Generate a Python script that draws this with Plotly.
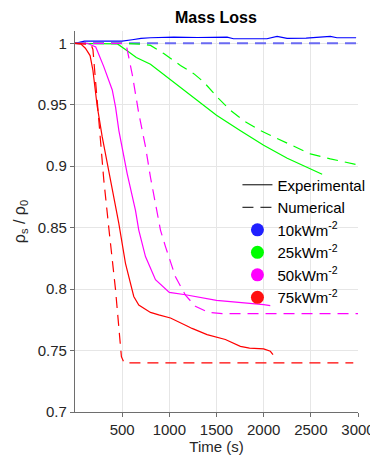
import plotly.graph_objects as go

# ---- data ----
t_exp10 = [0, 100, 300, 500, 606, 700, 800, 1047, 1300, 1612, 1680, 1850, 2035, 2142, 2248, 2450, 2707, 2777, 2980]
y_exp10 = [1.0, 1.0018, 1.0018, 1.0018, 1.0029, 1.004, 1.0045, 1.005, 1.0047, 1.005, 1.0037, 1.0037, 1.0037, 1.0056, 1.004, 1.0042, 1.0056, 1.0045, 1.0045]
t_num10 = [0, 2980]
y_num10 = [1.0, 1.0]

t_exp25 = [0, 200, 450, 553, 650, 800, 1000, 1250, 1500, 1750, 2000, 2250, 2500, 2620]
y_exp25 = [1.0, 1.0, 0.9995, 0.994, 0.9885, 0.983, 0.9713, 0.9565, 0.9415, 0.929, 0.917, 0.9065, 0.898, 0.8935]
t_num25 = [0, 500, 700, 801, 941, 1118, 1259, 1365, 1506, 1647, 1788, 1965, 2142, 2318, 2495, 2707, 2953, 3000]
y_num25 = [1.0, 1.0, 0.9993, 0.9983, 0.9916, 0.982, 0.9753, 0.9685, 0.9563, 0.9455, 0.937, 0.929, 0.9226, 0.916, 0.910, 0.906, 0.9017, 0.901]

t_exp50 = [0, 130, 220, 305, 395, 430, 465, 553, 641, 676, 747, 853, 1000, 1171, 1500, 1800, 2000, 2070]
y_exp50 = [1.0, 1.0, 0.997, 0.981, 0.962, 0.948, 0.929, 0.894, 0.864, 0.848, 0.8265, 0.8076, 0.7973, 0.7954, 0.7908, 0.789, 0.7873, 0.7865]
t_num50 = [0, 500, 545, 606, 676, 747, 800, 871, 906, 959, 1065, 1171, 1276, 1418, 1559, 3000]
y_num50 = [1.0, 1.0, 0.998, 0.975, 0.943, 0.916, 0.891, 0.864, 0.848, 0.8346, 0.810, 0.795, 0.786, 0.781, 0.780, 0.780]

t_exp75 = [0, 60, 110, 160, 190, 235, 288, 358, 376, 464, 535, 623, 676, 800, 888, 1012, 1188, 1241, 1400, 1594, 1753, 1850, 2000, 2071, 2099]
y_exp75 = [1.0, 0.9995, 0.996, 0.99, 0.978, 0.949, 0.924, 0.897, 0.889, 0.8536, 0.821, 0.794, 0.787, 0.781, 0.779, 0.7765, 0.770, 0.768, 0.763, 0.759, 0.7534, 0.752, 0.7513, 0.7494, 0.7467]
t_num75 = [0, 170, 190, 230, 305, 358, 429, 492, 520, 2950]
y_num75 = [1.0, 0.999, 0.995, 0.96, 0.889, 0.85, 0.80, 0.745, 0.740, 0.740]

flux_labels = ["10kWm<sup>-2</sup>", "25kWm<sup>-2</sup>", "50kWm<sup>-2</sup>", "75kWm<sup>-2</sup>"]
x_ticks = [500, 1000, 1500, 2000, 2500, 3000]
y_ticks = [0.7, 0.75, 0.8, 0.85, 0.9, 0.95, 1.0]
y_tick_text = ["0.7", "0.75", "0.8", "0.85", "0.9", "0.95", "1"]

# ---- styles ----
colors = ["#0000ff", "#00ff00", "#ff00ff", "#ff0000"]
dash_colors = ["#6a6af2", "#00ff00", "#ff00ff", "#ff0000"]
dot_colors = ["#2020ff", "#00ff00", "#ff00ff", "#ff1010"]
DASH = "11px,7px"
FONT = "Liberation Sans, Arial, Helvetica, sans-serif"

fig = go.Figure()

series = [
    (t_exp10, y_exp10, t_num10, y_num10),
    (t_exp25, y_exp25, t_num25, y_num25),
    (t_exp50, y_exp50, t_num50, y_num50),
    (t_exp75, y_exp75, t_num75, y_num75),
]
for i, (te, ye, tn, yn) in enumerate(series):
    fig.add_trace(go.Scatter(x=tn, y=yn, mode="lines", showlegend=False,
                             line=dict(color=dash_colors[i], width=2 if i == 0 else 1.2, dash=DASH)))
    fig.add_trace(go.Scatter(x=te, y=ye, mode="lines", showlegend=False,
                             line=dict(color=colors[i], width=1.2)))

# legend entries
fig.add_trace(go.Scatter(x=[None], y=[None], mode="lines", name="Experimental",
                         line=dict(color="black", width=1)))
fig.add_trace(go.Scatter(x=[None], y=[None], mode="lines", name="Numerical",
                         line=dict(color="black", width=1, dash=DASH)))
for i, lab in enumerate(flux_labels):
    fig.add_trace(go.Scatter(x=[None], y=[None], mode="markers", name=lab,
                             marker=dict(color=dot_colors[i], size=13, line=dict(width=0))))

axis_common = dict(
    showgrid=True, gridcolor="#e6e6e6", gridwidth=1,
    showline=True, linecolor="#6e6e6e", linewidth=1.3,
    ticks="outside", ticklen=4, tickcolor="#6e6e6e",
    tickfont=dict(family=FONT, size=15, color="#262626"),
    zeroline=False, mirror=False, automargin=False,
)

# page body has an 8px margin, so the figure is 8px smaller and offset
fig.update_layout(
    width=370, height=451,
    margin=dict(l=66.5, r=20.3, t=22.6, b=46.5, autoexpand=False),
    paper_bgcolor="white", plot_bgcolor="white",
    font=dict(family=FONT, color="#262626"),
    title=dict(text="<b>Mass Loss</b>", x=0.562, xanchor="center", y=0.980, yanchor="middle",
               font=dict(family=FONT, size=16, color="black")),
    xaxis=dict(range=[0, 3000], tickvals=x_ticks,
               title=dict(text="Time (s)", font=dict(family=FONT, size=15, color="#262626"), standoff=2),
               **axis_common),
    yaxis=dict(range=[0.7, 1.01], tickvals=y_ticks, ticktext=y_tick_text,
               title=dict(text="ρ<sub>s</sub> / ρ<sub>0</sub>", font=dict(family=FONT, size=16, color="#262626"), standoff=8),
               **axis_common),
    legend=dict(x=0.574, y=0.639, xanchor="left", yanchor="top",
                bgcolor="rgba(0,0,0,0)", borderwidth=0,
                font=dict(family=FONT, size=15, color="black"),
                itemwidth=30, tracegroupgap=0),
)

fig.write_html("out.html")
